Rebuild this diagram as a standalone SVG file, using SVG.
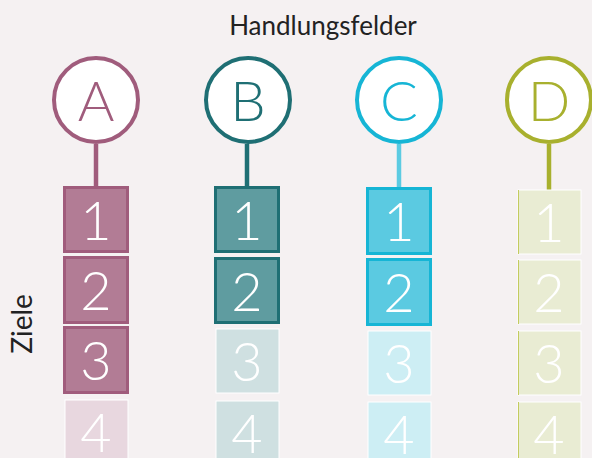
<svg xmlns="http://www.w3.org/2000/svg" width="592" height="458" viewBox="0 0 592 458">
<style>
.bg{fill:#f5f1f2}
.ring{fill:#fff;stroke-width:4}
.stem{stroke-width:4.5;fill:none}
.letter{font-family:"Lato","Liberation Sans",sans-serif;font-weight:300;font-size:56px;text-anchor:middle}
.num{font-family:"Lato","Liberation Sans",sans-serif;font-weight:300;font-size:54px;text-anchor:middle;fill:#fff}
.box{stroke-width:3}
.fade{stroke:#fff;stroke-width:1}
.title{font-family:"Lato","Liberation Sans",sans-serif;font-size:26px;fill:#222;text-anchor:middle}
</style>
<rect class="bg" x="0" y="0" width="592" height="458"/>
<text class="title" x="323" y="35">Handlungsfelder</text>
<text class="title" transform="translate(32,324) rotate(-90)" style="font-size:28px">Ziele</text>
<g id="connectors">
<line class="stem" x1="96" y1="144" x2="96" y2="187" stroke="#a05c7c"/>
<line class="stem" x1="247" y1="144" x2="247" y2="187" stroke="#1f6f74"/>
<line class="stem" x1="399" y1="144" x2="399" y2="188" stroke="#5ccbe2"/>
<line class="stem" x1="549" y1="144" x2="549" y2="190" stroke="#a8b02e"/>
</g>
<g id="A">
<circle class="ring" cx="96" cy="100" r="42" stroke="#a05c7c"/>
<text class="letter" x="96" y="121" fill="#a05c7c">A</text>
<g id="A1"><rect class="box" x="64.5" y="187.5" width="63" height="64" fill="#b27c95" stroke="#a05c7c"/><text class="num" x="96" y="240">1</text></g>
<g id="A2"><rect class="box" x="64.5" y="257.5" width="63" height="65" fill="#b27c95" stroke="#a05c7c"/><text class="num" x="96" y="310">2</text></g>
<g id="A3"><rect class="box" x="64.5" y="327.5" width="63" height="65" fill="#b27c95" stroke="#a05c7c"/><text class="num" x="96" y="380">3</text></g>
<g id="A4"><rect class="fade" x="65" y="400" width="63" height="64" fill="#e8d7df"/><text class="num" x="96" y="452">4</text></g>
</g>
<g id="B">
<circle class="ring" cx="248" cy="100" r="42" stroke="#1f6f74"/>
<text class="letter" x="248" y="121" fill="#1f6f74">B</text>
<g id="B1"><rect class="box" x="215.5" y="187.5" width="63" height="64" fill="#5f9ca0" stroke="#1f6f74"/><text class="num" x="247" y="240">1</text></g>
<g id="B2"><rect class="box" x="215.5" y="258.5" width="63" height="64" fill="#5f9ca0" stroke="#1f6f74"/><text class="num" x="247" y="311">2</text></g>
<g id="B3"><rect class="fade" x="216" y="329" width="63" height="64" fill="#cfe0e1"/><text class="num" x="247" y="381">3</text></g>
<g id="B4"><rect class="fade" x="216" y="401" width="63" height="64" fill="#cfe0e1"/><text class="num" x="247" y="453">4</text></g>
</g>
<g id="C">
<circle class="ring" cx="399" cy="100" r="42" stroke="#16b5d5"/>
<text class="letter" x="399" y="121" fill="#16b5d5">C</text>
<g id="C1"><rect class="box" x="367.5" y="188.5" width="63" height="65" fill="#5bcae1" stroke="#16b5d5"/><text class="num" x="399" y="241">1</text></g>
<g id="C2"><rect class="box" x="367.5" y="259.5" width="63" height="65" fill="#5bcae1" stroke="#16b5d5"/><text class="num" x="399" y="312">2</text></g>
<g id="C3"><rect class="fade" x="368" y="331" width="63" height="64" fill="#cdeef4"/><text class="num" x="399" y="383">3</text></g>
<g id="C4"><rect class="fade" x="368" y="402" width="63" height="64" fill="#cdeef4"/><text class="num" x="399" y="454">4</text></g>
</g>
<g id="D">
<circle class="ring" cx="549" cy="100" r="42" stroke="#a8b02e"/>
<text class="letter" x="549" y="121" fill="#a8b02e">D</text>
<g id="D1"><rect class="fade" x="518" y="190" width="63" height="64" fill="#e9ecd3"/><line x1="518.5" y1="190" x2="518.5" y2="254" stroke="#c3cb5f"/><text class="num" x="549" y="242">1</text></g>
<g id="D2"><rect class="fade" x="518" y="260" width="63" height="64" fill="#e9ecd3"/><line x1="518.5" y1="260" x2="518.5" y2="324" stroke="#c3cb5f"/><text class="num" x="549" y="312">2</text></g>
<g id="D3"><rect class="fade" x="518" y="331" width="63" height="64" fill="#e9ecd3"/><line x1="518.5" y1="331" x2="518.5" y2="395" stroke="#c3cb5f"/><text class="num" x="549" y="383">3</text></g>
<g id="D4"><rect class="fade" x="518" y="402" width="63" height="64" fill="#e9ecd3"/><line x1="518.5" y1="402" x2="518.5" y2="466" stroke="#c3cb5f"/><text class="num" x="549" y="454">4</text></g>
</g>
</svg>
